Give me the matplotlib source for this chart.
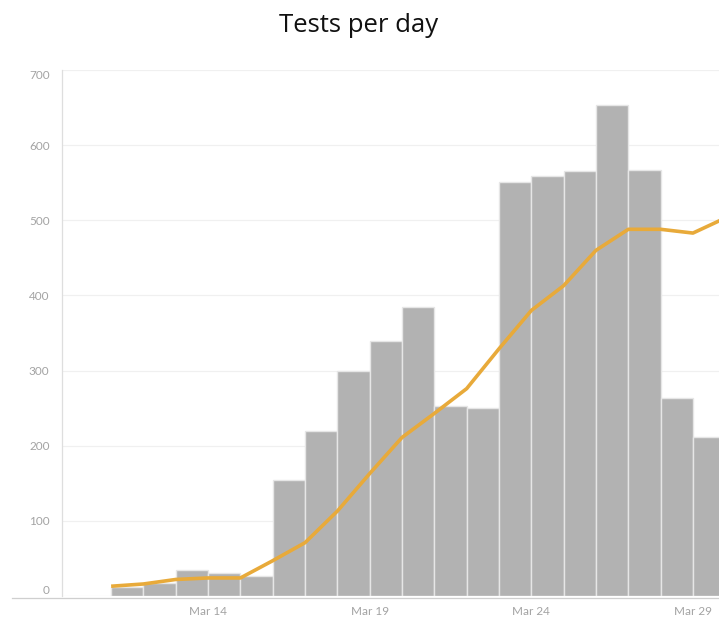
import numpy as np
import matplotlib
matplotlib.use('Agg')
import matplotlib.pyplot as plt
from matplotlib.lines import Line2D

# Day of month (March) for each bar, left edge of bar sits on the date
days = [11, 12, 13, 14, 15, 16, 17, 18, 19, 20, 21, 22, 23, 24, 25, 26, 27, 28, 29, 30]
tests = [12, 17, 35, 30, 27, 155, 220, 300, 340, 385, 253, 250, 551, 559, 565, 653, 567, 263, 212, 150]
# moving average, one point per date
avg_days = [11, 12, 13, 14, 15, 16, 17, 18, 19, 20, 21, 22, 23, 24, 25, 26, 27, 28, 29, 30]
avg_tests = [13, 16, 22, 24, 24, 47, 71, 113, 163, 211, 243, 276, 329, 380, 413, 460, 488, 488, 483, 503]
tick_days = [14, 19, 24, 29]
tick_labels = ['Mar 14', 'Mar 19', 'Mar 24', 'Mar 29']
y_ticks = [0, 100, 200, 300, 400, 500, 600, 700]

W, H = 719, 622
fig = plt.figure(figsize=(W/100, H/100), dpi=100)
ax = fig.add_axes([62/W, 1 - 596/H, 1 - 62/W, (596 - 70)/H])

ax.bar(days, tests, width=1.0, align='edge', color='#b2b2b2',
       edgecolor='#e6e6e6', linewidth=1.0, zorder=2)
ax.plot(avg_days, avg_tests, color='#e8aa3a', linewidth=2.6, zorder=3,
        solid_joinstyle='round', solid_capstyle='butt')

ax.set_xlim(11 - 1.52, 11 + (719 - 111)/32.33)
ax.set_ylim(0, 700)

ax.set_yticks(y_ticks)
ax.set_yticklabels([str(v) for v in y_ticks])
ax.set_xticks(tick_days)
ax.set_xticklabels(tick_labels)
ax.tick_params(axis='both', length=0, labelsize=8.5, labelcolor='#a3a3a3')
ax.tick_params(axis='y', pad=9)
ax.tick_params(axis='x', pad=7)
for lab in ax.get_yticklabels():
  lab.set_fontfamily('Lato')
  if lab.get_text() == '0':
    lab.set_va('bottom')
  elif lab.get_text() == '700':
    lab.set_va('top')
for lab in ax.get_xticklabels():
  lab.set_fontfamily('Lato')

ax.grid(axis='y', color='#f0f0f0', linewidth=0.9, zorder=0)
ax.set_axisbelow(True)
for side in ['top', 'right', 'bottom']:
  ax.spines[side].set_visible(False)
ax.spines['left'].set_color('#dedede')
ax.spines['left'].set_linewidth(0.9)

# bottom axis line running under the y labels
fig.add_artist(Line2D([12/W, 1], [1 - 598/H, 1 - 598/H], color='#cfcfcf', linewidth=0.9))

fig.text(359/W, 1 - 26/H, 'Tests per day', ha='center', va='center',
         fontsize=18.5, color='#111111', family='Open Sans')

fig.savefig('out.png', dpi=100)
